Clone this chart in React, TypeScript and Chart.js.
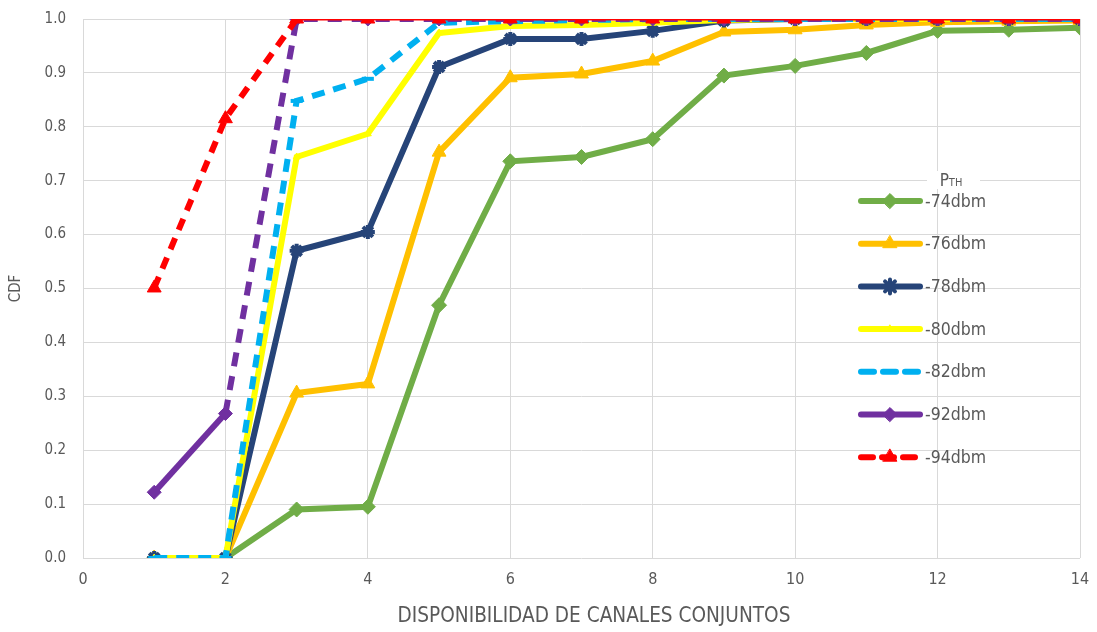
import React, { useEffect, useRef } from 'react';
import { Chart, registerables } from 'chart.js';
import { drawPoint } from 'chart.js/helpers';

Chart.register(...registerables);

const FONT = '"DejaVu Sans Condensed", "DejaVu Sans", sans-serif';
const TEXT = '#595959';

const xValues = [1, 2, 3, 4, 5, 6, 7, 8, 9, 10, 11, 12, 13, 14];
const seriesLabels = ['-74dbm', '-76dbm', '-78dbm', '-80dbm', '-82dbm', '-92dbm', '-94dbm'];
const s74 = [0, 0, 0.09, 0.095, 0.469, 0.736, 0.744, 0.777, 0.895, 0.913, 0.937, 0.978, 0.98, 0.984];
const s76 = [0, 0, 0.306, 0.323, 0.753, 0.891, 0.898, 0.922, 0.976, 0.98, 0.989, 0.994, 0.996, 0.997];
const s78 = [0, 0, 0.57, 0.605, 0.911, 0.963, 0.963, 0.978, 0.997, 1, 1, 1, 1, 1];
const s80 = [0, 0, 0.744, 0.787, 0.974, 0.987, 0.989, 0.993, 0.998, 1, 1, 1, 1, 1];
const s82 = [0, 0, 0.848, 0.889, 0.993, 0.996, 0.998, 1, 1, 1, 1, 1, 1, 1];
const s92 = [0.122, 0.268, 1, 1, 1, 1, 1, 1, 1, 1, 1, 1, 1, 1];
const s94 = [0.501, 0.815, 1, 1, 1, 1, 1, 1, 1, 1, 1, 1, 1, 1];
const seriesValues = [s74, s76, s78, s80, s82, s92, s94];

const xTitle = 'DISPONIBILIDAD DE CANALES CONJUNTOS';
const yTitle = 'CDF';

const colors = ['#70ad47', '#ffc000', '#264478', '#ffff00', '#00b0f0', '#7030a0', '#ff0000'];
const pointStyles = ['rectRot', 'triangle', 'star', 'triangle', 'line', 'rectRot', 'triangle'];
const pointRadii = [7.5, 8, 7, 4, 6, 7, 8];
const legendDashes: number[][] = [[], [], [], [], [13, 9], [], [12, 9]];

const legendPlugin = {
  id: 'pthLegend',
  afterDraw(chart: any) {
    const ctx = chart.ctx;
    ctx.save();
    // x axis title
    ctx.fillStyle = TEXT;
    ctx.font = `20.6px ${FONT}`;
    ctx.textAlign = 'center';
    ctx.textBaseline = 'middle';
    ctx.fillText(xTitle, 594, 617);

    ctx.font = `17px ${FONT}`;
    const pW = ctx.measureText('P').width;
    ctx.font = `11px ${FONT}`;
    const thW = ctx.measureText('TH').width;
    const total = pW + thW;
    const cx = 951;
    const cy = 180;
    ctx.fillStyle = '#ffffff';
    ctx.fillRect(927, cy - 9, 53, 18);
    ctx.fillStyle = TEXT;
    ctx.textBaseline = 'alphabetic';
    ctx.textAlign = 'left';
    ctx.font = `17px ${FONT}`;
    ctx.fillText('P', cx - total / 2, cy + 6);
    ctx.font = `11px ${FONT}`;
    ctx.fillText('TH', cx - total / 2 + pW, cy + 6);

    chart.data.datasets.forEach((ds: any, i: number) => {
      const y = 201 + i * 42.7;
      ctx.save();
      ctx.strokeStyle = ds.borderColor;
      ctx.lineWidth = 6;
      ctx.lineCap = 'round';
      ctx.setLineDash(legendDashes[i]);
      ctx.beginPath();
      ctx.moveTo(861, y);
      ctx.lineTo(920, y);
      ctx.stroke();
      ctx.setLineDash([]);
      ctx.fillStyle = ds.pointBackgroundColor;
      ctx.strokeStyle = ds.pointBorderColor;
      ctx.lineWidth = ds.pointBorderWidth;
      drawPoint(ctx, { pointStyle: ds.pointStyle, radius: ds.pointRadius, borderWidth: ds.pointBorderWidth, rotation: 0 } as any, 890, y);
      ctx.restore();
      ctx.fillStyle = TEXT;
      ctx.font = `17.5px ${FONT}`;
      ctx.textAlign = 'left';
      ctx.textBaseline = 'middle';
      ctx.fillText(ds.label, 925, y + 1);
    });
    ctx.restore();
  },
};

export default function App() {
  const canvasRef = useRef<HTMLCanvasElement | null>(null);

  useEffect(() => {
    document.body.style.margin = '0';
    const canvas = canvasRef.current;
    if (!canvas) return;
    const datasets = seriesLabels.map((label, i) => {
      const ds: any = {
        label,
        data: xValues.map((x, j) => ({ x, y: seriesValues[i][j] })),
        borderColor: colors[i],
        backgroundColor: colors[i],
        borderWidth: 6,
        borderDash: legendDashes[i],
        pointStyle: pointStyles[i],
        pointRadius: pointRadii[i],
        pointBackgroundColor: colors[i],
        pointBorderColor: colors[i],
        pointBorderWidth: pointStyles[i] === 'star' || pointStyles[i] === 'line' ? 4 : 1,
        tension: 0,
        fill: false,
        order: seriesLabels.length - i,
        borderCapStyle: 'butt',
      };
      if (label === '-92dbm') {
        ds.segment = { borderDash: (c: any) => (c.p0DataIndex === 0 ? [] : [14, 10]) };
      }
      if (label === '-94dbm') {
        ds.segment = {
          borderDash: (c: any) => (c.p0DataIndex < 2 ? [12, 9] : []),
          borderWidth: (c: any) => (c.p0DataIndex < 2 ? 6 : 3),
        };
      }
      return ds;
    });

    const chart = new Chart(canvas, {
      type: 'line',
      data: { datasets },
      plugins: [legendPlugin],
      options: {
        responsive: false,
        animation: false,
        layout: { padding: { top: 19, right: 17, left: 0, bottom: 0 } },
        plugins: { legend: { display: false }, tooltip: { enabled: false } },
        scales: {
          x: {
            type: 'linear',
            min: 0,
            max: 14,
            ticks: { stepSize: 2, color: TEXT, font: { family: FONT, size: 16 }, padding: 12 },
            grid: { color: '#d9d9d9', lineWidth: 1, drawTicks: false },
            border: { display: false },
            title: { display: false },
            afterFit: (s: any) => {
              s.height = 74;
              s.paddingLeft = 0;
              s.paddingRight = 0;
            },
          },
          y: {
            type: 'linear',
            min: 0,
            max: 1,
            ticks: {
              stepSize: 0.1,
              color: TEXT,
              font: { family: FONT, size: 15 },
              padding: 17,
              callback: (v: any) => Number(v).toFixed(1),
            },
            grid: { color: '#d9d9d9', lineWidth: 1, drawTicks: false },
            border: { display: false },
            title: {
              display: true,
              text: yTitle,
              color: TEXT,
              font: { family: FONT, size: 15 },
              padding: { top: 7, bottom: 0 },
            },
            afterFit: (s: any) => {
              s.width = 83;
              s.paddingTop = 0;
              s.paddingBottom = 0;
            },
          },
        },
      },
    });
    return () => chart.destroy();
  }, []);

  return (
    <canvas
      ref={canvasRef}
      width={1097}
      height={632}
      style={{ display: 'block', width: '1097px', height: '632px' }}
    />
  );
}
